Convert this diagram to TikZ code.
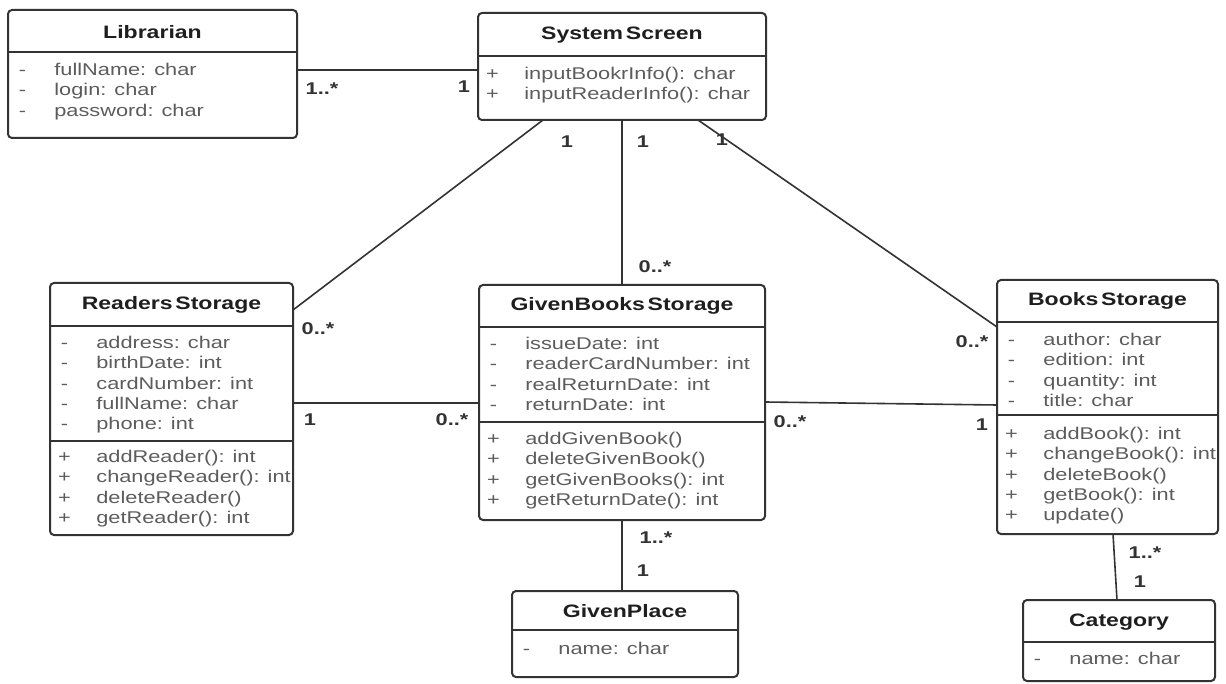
\documentclass[tikz,border=0pt]{standalone}
\usepackage{fontspec}
\usepackage{xcolor}
\usetikzlibrary{positioning,fit,calc}

\newfontfamily\umlfont[FakeStretch=1.28]{Liberation Sans}
\definecolor{umlline}{HTML}{333333}
\definecolor{umltext}{HTML}{5C5C5C}
\definecolor{umltitle}{HTML}{1E1E1E}
\newcommand{\vis}[1]{\strut\makebox[14pt][c]{#1}\hspace{9pt}}

\begin{document}
\begin{tikzpicture}[x=0.5pt, y=-0.5pt,
    umlclass/.style={draw=umlline, line width=1pt, rounded corners=2pt, inner sep=0pt, outer sep=0pt},
    sep/.style={draw=umlline, line width=1pt},
    title/.style={font=\umlfont\fontsize{9}{11}\selectfont\bfseries, text=umltitle, inner sep=0pt},
    members/.style={anchor=north west, align=left, inner sep=0pt, font=\umlfont\fontsize{8.5}{10.15}\selectfont, text=umltext},
    assoc/.style={draw=umlline, line width=0.8pt},
    mult/.style={font=\umlfont\fontsize{8.5}{10}\selectfont\bfseries, text=umlline, inner sep=0pt}
]

\useasboundingbox (0,0) rectangle (1226,684);

% Class boxes
\node[umlclass, fit={(8,10) (297,138)}] (lib) {};
\node[umlclass, fit={(478,13) (766,120)}] (sys) {};
\node[umlclass, fit={(50,283) (293,535)}] (rdr) {};
\node[umlclass, fit={(479,285) (765,520)}] (gbs) {};
\node[umlclass, fit={(997,280) (1218,534)}] (bks) {};
\node[umlclass, fit={(512,591) (738,677)}] (gpl) {};
\node[umlclass, fit={(1023,600) (1215,681)}] (cat) {};

% Compartment lines
\draw[sep] (lib.west |- 0,52) -- (lib.east |- 0,52);
\draw[sep] (sys.west |- 0,56) -- (sys.east |- 0,56);
\draw[sep] (rdr.west |- 0,326) -- (rdr.east |- 0,326);
\draw[sep] (rdr.west |- 0,441) -- (rdr.east |- 0,441);
\draw[sep] (gbs.west |- 0,327) -- (gbs.east |- 0,327);
\draw[sep] (gbs.west |- 0,422) -- (gbs.east |- 0,422);
\draw[sep] (bks.west |- 0,322) -- (bks.east |- 0,322);
\draw[sep] (bks.west |- 0,415) -- (bks.east |- 0,415);
\draw[sep] (gpl.west |- 0,630) -- (gpl.east |- 0,630);
\draw[sep] (cat.west |- 0,642) -- (cat.east |- 0,642);

% Class names
\node[title] (lib-t) at (152.5,32) {Librarian};
\node[title] (sys-t) at (622,35) {System\hspace{0.15em}Screen};
\node[title] (rdr-t) at (171.5,305) {Readers\hspace{0.15em}Storage};
\node[title] (gbs-t) at (622,306) {GivenBooks\hspace{0.15em}Storage};
\node[title] (bks-t) at (1107.5,301) {Books\hspace{0.15em}Storage};
\node[title] (gpl-t) at (625,611) {GivenPlace};
\node[title] (cat-t) at (1119,622) {Category};

% Attributes and operations
\node[members] (lib-a) at (8,61) {\vis{-}fullName: char\\\vis{-}login: char\\\vis{-}password: char};
\node[members] (sys-o) at (478,65) {\vis{+}inputBookrInfo(): char\\\vis{+}inputReaderInfo(): char};
\node[members] (rdr-a) at (50,334) {\vis{-}address: char\\\vis{-}birthDate: int\\\vis{-}cardNumber: int\\\vis{-}fullName: char\\\vis{-}phone: int};
\node[members] (rdr-o) at (50,448) {\vis{+}addReader(): int\\\vis{+}changeReader(): int\\\vis{+}deleteReader()\\\vis{+}getReader(): int};
\node[members] (gbs-a) at (479,335) {\vis{-}issueDate: int\\\vis{-}readerCardNumber: int\\\vis{-}realReturnDate: int\\\vis{-}returnDate: int};
\node[members] (gbs-o) at (479,430) {\vis{+}addGivenBook()\\\vis{+}deleteGivenBook()\\\vis{+}getGivenBooks(): int\\\vis{+}getReturnDate(): int};
\node[members] (bks-a) at (997,331) {\vis{-}author: char\\\vis{-}edition: int\\\vis{-}quantity: int\\\vis{-}title: char};
\node[members] (bks-o) at (997,425) {\vis{+}addBook(): int\\\vis{+}changeBook(): int\\\vis{+}deleteBook()\\\vis{+}getBook(): int\\\vis{+}update()};
\node[members] (gpl-a) at (512,640) {\vis{-}name: char};
\node[members] (cat-a) at (1023,650) {\vis{-}name: char};

% Associations
\draw[assoc] (lib.east |- 0,70) -- (sys.west |- 0,70);
\draw[assoc] ($(sys.south)+(-79,0)$) -- ($(rdr.north east)+(0,27)$);
\draw[assoc] (sys.south) -- (gbs.north);
\draw[assoc] ($(sys.south)+(76,0)$) -- ($(bks.north west)+(0,47)$);
\draw[assoc] (rdr.east |- 0,403) -- (gbs.west |- 0,403);
\draw[assoc] (gbs.east |- 0,402) -- (bks.west |- 0,405);
\draw[assoc] (gbs.south) -- (gbs.south |- gpl.north);
\draw[assoc] ($(bks.south)+(5.5,0)$) -- ($(cat.north)+(-2,0)$);

% Multiplicities
\node[mult] (m1) at (322,89) {1..*};
\node[mult] (m2) at (464,87) {1};
\node[mult] (m3) at (567,142) {1};
\node[mult] (m4) at (643,142) {1};
\node[mult] (m5) at (722,140) {1};
\node[mult] (m6) at (655,267) {0..*};
\node[mult] (m7) at (318,329) {0..*};
\node[mult] (m8) at (310,420) {1};
\node[mult] (m9) at (452,420) {0..*};
\node[mult] (m10) at (790,422) {0..*};
\node[mult] (m11) at (972,342) {0..*};
\node[mult] (m12) at (982,425) {1};
\node[mult] (m13) at (656,538) {1..*};
\node[mult] (m14) at (643,571) {1};
\node[mult] (m15) at (1145,553) {1..*};
\node[mult] (m16) at (1140,582) {1};

\end{tikzpicture}
\end{document}
